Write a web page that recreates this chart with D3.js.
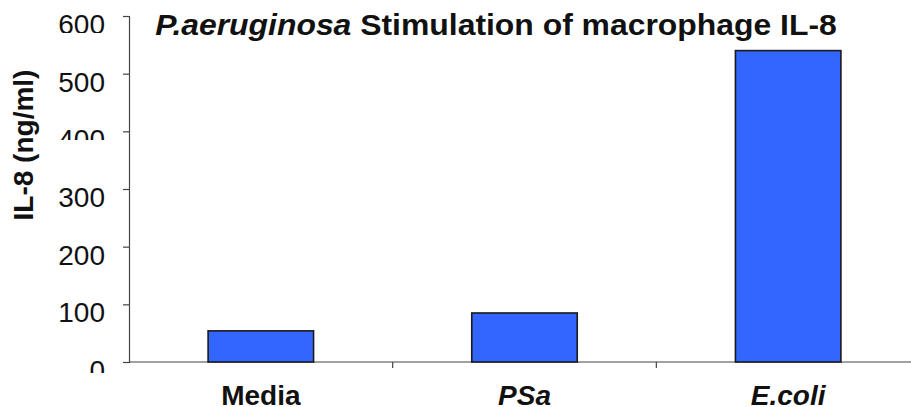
<!DOCTYPE html>
<html>
<head>
<meta charset="utf-8">
<script src="https://cdn.jsdelivr.net/npm/d3@7"></script>
<style>
body { margin: 0; background: #fff; }
svg { display: block; font-family: "Liberation Sans", Arial, sans-serif; }
</style>
</head>
<body>
<div id="chart"></div>
<script>
const width = 911,
height = 407,
margin = {top: 16, right: -9, bottom: 45, left: 129};

// data
const categories = ["Media", "PSa", "E.coli"];
const italicCats = ["PSa", "E.coli"];
const values = [54, 85, 540];
const yTicks = [0, 100, 200, 300, 400, 500, 600];

const svg = d3.select("#chart")
.append("svg")
.attr("width", width)
.attr("height", height);

let x = d3.scaleBand(categories, [margin.left, width - margin.right])
.paddingInner(0.6)
.paddingOuter(0.3);

let y = d3.scaleLinear([0, 600], [height - margin.bottom, margin.top]);

// y axis
const yAxis = svg.append("g")
.attr("transform", `translate(${margin.left},0)`)
.call(d3.axisLeft(y).tickValues(yTicks).tickSize(6).tickPadding(18));

yAxis.select(".domain").attr("stroke", "#444").attr("stroke-width", 1.2);
yAxis.selectAll(".tick line").attr("stroke", "#444").attr("stroke-width", 1.2);
yAxis.selectAll("text")
.attr("font-size", 28)
.attr("font-family", "Liberation Sans, Arial, sans-serif")
.attr("fill", "#111")
.attr("dy", "0.62em");

// some tick labels are cut through in the original
const cuts = [[33, 8], [140, 12], [373, 12]];
svg.append("g")
.selectAll("rect")
.data(cuts)
.join("rect")
.attr("x", 40)
.attr("y", d => d[0])
.attr("width", 80)
.attr("height", d => d[1])
.attr("fill", "#fff");

// x axis line + boundary ticks
svg.append("line")
.attr("x1", margin.left)
.attr("x2", width)
.attr("y1", y(0))
.attr("y2", y(0))
.attr("stroke", "#444")
.attr("stroke-width", 1.2);

svg.append("g")
.selectAll("line")
.data(categories.slice(1))
.join("line")
.attr("x1", d => x(d) - x.step() * 0.3)
.attr("x2", d => x(d) - x.step() * 0.3)
.attr("y1", y(0))
.attr("y2", y(0) + 6)
.attr("stroke", "#444")
.attr("stroke-width", 1.2);

// bars
svg.append("g")
.selectAll("rect")
.data(values)
.join("rect")
.attr("x", (d, i) => x(categories[i]))
.attr("y", d => y(d))
.attr("width", x.bandwidth())
.attr("height", d => y(0) - y(d))
.attr("fill", "#3366ff")
.attr("stroke", "#1a1a1a")
.attr("stroke-width", 1.6);

// category labels
svg.append("g")
.selectAll("text")
.data(categories)
.join("text")
.attr("x", d => x(d) + x.bandwidth() / 2)
.attr("y", 405)
.attr("text-anchor", "middle")
.attr("font-size", 28)
.attr("font-weight", "bold")
.attr("font-style", d => italicCats.includes(d) ? "italic" : "normal")
.attr("fill", "#111")
.text(d => d);

// title (a bit wider than the font in the original)
const title = svg.append("text")
.attr("transform", "translate(496,35) scale(1.1,1)")
.attr("text-anchor", "middle")
.attr("font-size", 29)
.attr("font-weight", "bold")
.attr("fill", "#111");
title.append("tspan").attr("font-style", "italic").text("P.aeruginosa");
title.append("tspan").text(" Stimulation of macrophage IL-8");

// y label
svg.append("text")
.attr("transform", "translate(33,145) rotate(-90)")
.attr("text-anchor", "middle")
.attr("font-size", 28)
.attr("font-weight", "bold")
.attr("fill", "#111")
.text("IL-8 (ng/ml)");
</script>
</body>
</html>
